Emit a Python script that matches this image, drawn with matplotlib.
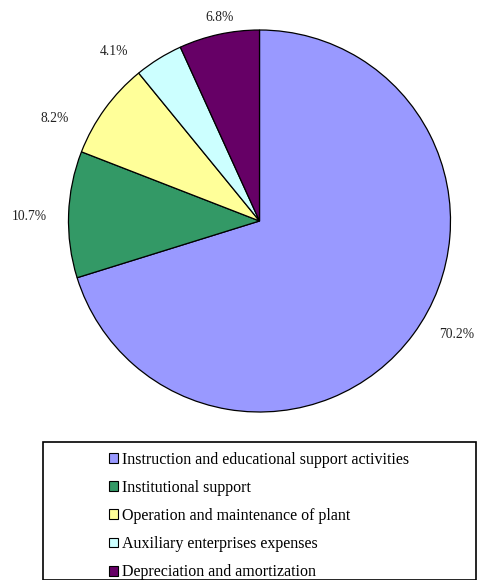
import matplotlib
matplotlib.use("Agg")
import matplotlib.pyplot as plt
from matplotlib.patches import Rectangle, Patch

categories = [
    "Instruction and educational support activities",
    "Institutional support",
    "Operation and maintenance of plant",
    "Auxiliary enterprises expenses",
    "Depreciation and amortization",
]
values = [70.2, 10.7, 8.2, 4.1, 6.8]
colors = ["#9999FF", "#339966", "#FFFF99", "#CCFFFF", "#660066"]

# layout: label centres (pie radius units), as placed in the original chart
label_xy = [(1.034, -0.594), (-1.203, 0.021), (-1.074, 0.539),
            (-0.760, 0.886), (-0.208, 1.064)]

plt.rcParams['font.family'] = ['Liberation Serif', 'DejaVu Serif']

W, H = 479, 580
fig = plt.figure(figsize=(W / 100, H / 100), dpi=100)

cx, cy, r = 259.5, 221, 191
ax = fig.add_axes([(cx - r) / W, 1 - (cy + r) / H, 2 * r / W, 2 * r / H])
wedges, _ = ax.pie(
    values, colors=colors, startangle=90, counterclock=False,
    wedgeprops=dict(edgecolor="black", linewidth=0.9),
)
for v, (x, y) in zip(values, label_xy):
    ax.text(x, y, f"{v:.1f}%", ha="center", va="center",
            fontsize=9.8, color="#222222", clip_on=False)
ax.set_xlim(-1, 1)
ax.set_ylim(-1, 1)
ax.set_aspect("equal")
ax.axis("off")

# legend box
fig.patches.append(Rectangle((43 / W, 0), (476 - 43) / W, 1 - 442 / H,
                             transform=fig.transFigure, fill=False,
                             edgecolor="black", linewidth=1.2))
handles = [Patch(facecolor=c, edgecolor="black", linewidth=0.8) for c in colors]
fig.legend(handles, categories, loc="upper left",
           bbox_to_anchor=(109 / W, 1 - 451.5 / H), frameon=False,
           fontsize=11.5, handlelength=0.56, handleheight=0.56,
           handletextpad=0.25, labelspacing=0.765, borderpad=0, borderaxespad=0)

fig.savefig("out.png", dpi=100)
